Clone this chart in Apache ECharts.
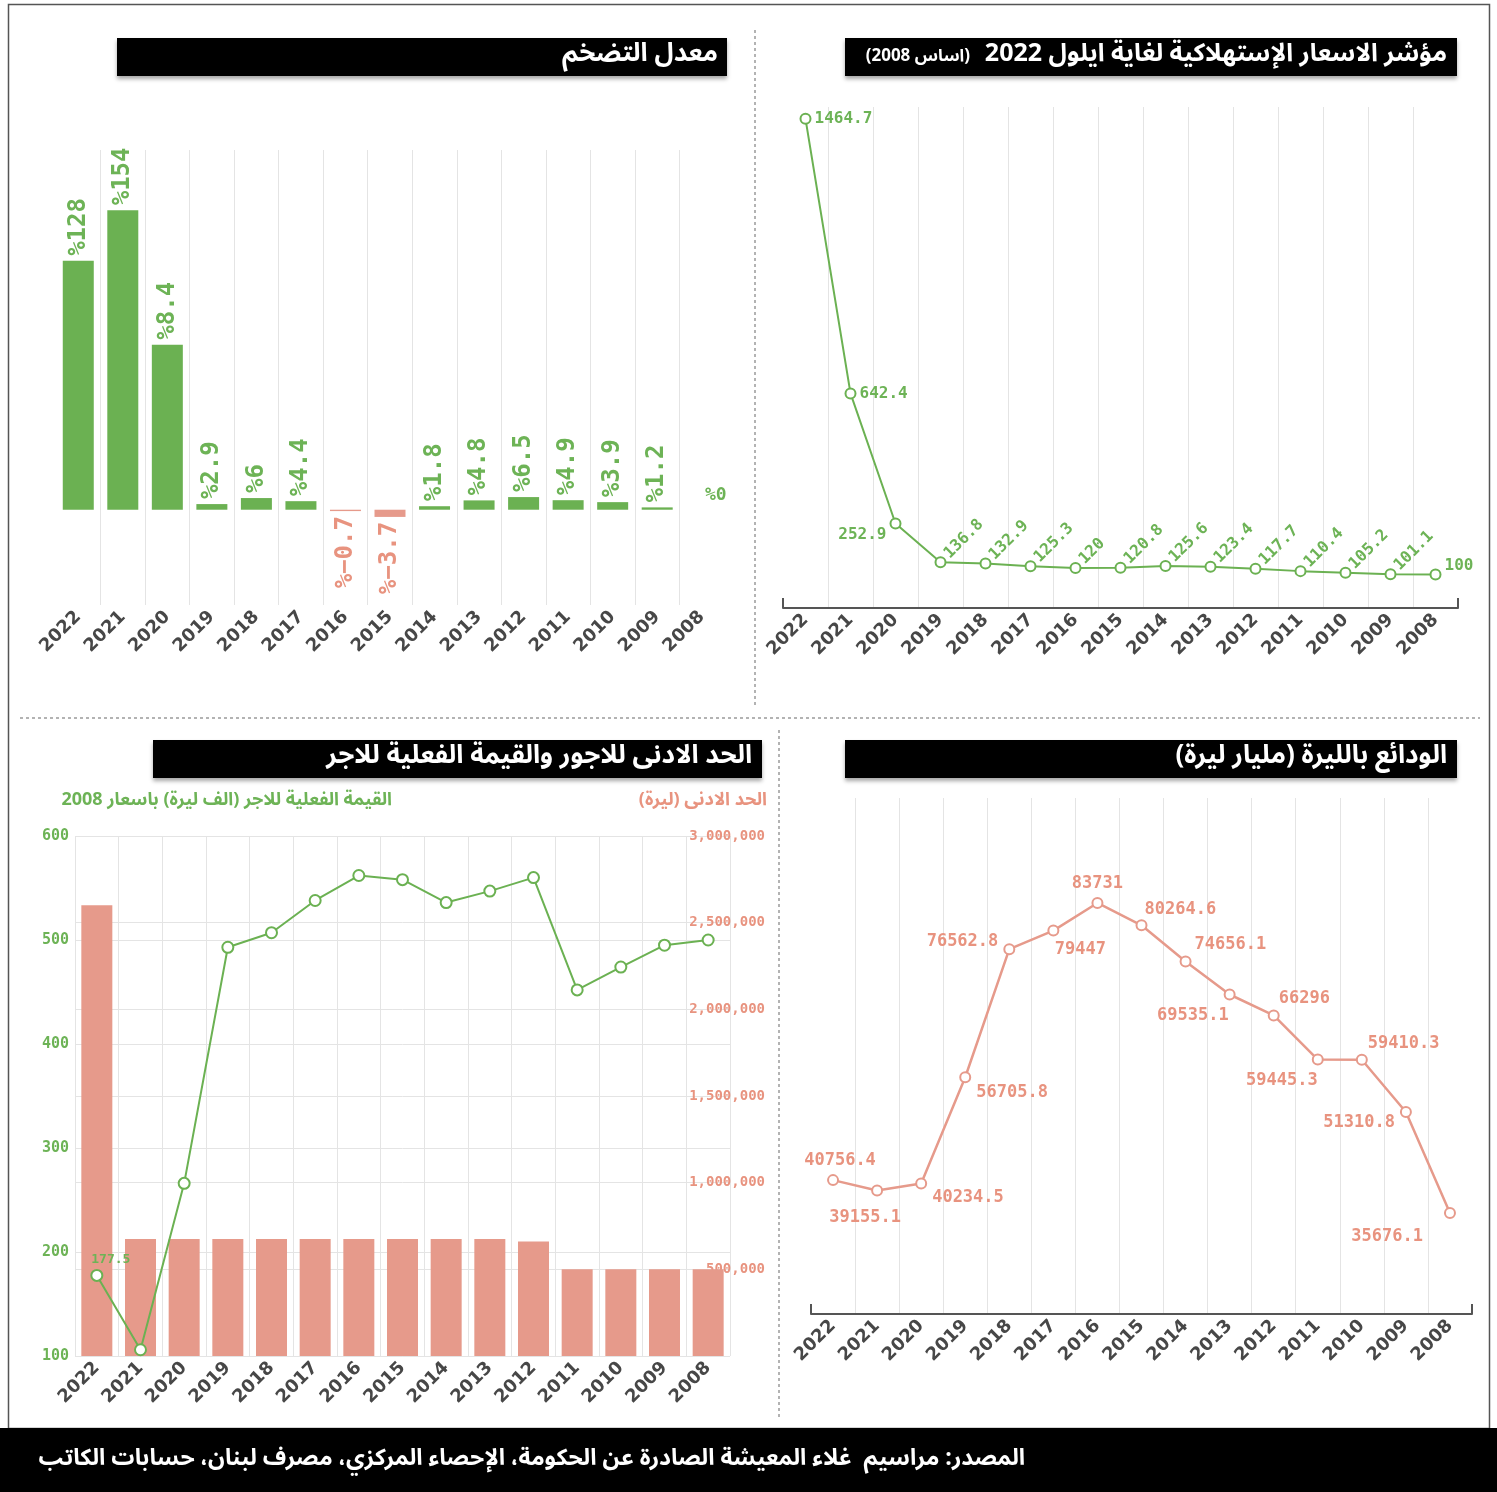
<!DOCTYPE html>
<html><head><meta charset="utf-8">
<script src="https://cdn.jsdelivr.net/npm/echarts/dist/echarts.min.js"></script>
<style>html,body{margin:0;padding:0;background:#fff}#c{width:1497px;height:1492px}</style>
</head><body><div id="c"></div>
<script>
// ---------- data ----------
const years = ['2022','2021','2020','2019','2018','2017','2016','2015','2014','2013','2012','2011','2010','2009','2008'];
const inflation = [128, 154, 84.9, 2.9, 6, 4.4, -0.7, -3.7, 1.8, 4.8, 6.5, 4.9, 3.9, 1.2, 0];
const inflationLabels = ['%128','%154','%8.4','%2.9','%6','%4.4','%\u22120.7','%\u22123.7','%1.8','%4.8','%6.5','%4.9','%3.9','%1.2','%0'];
const cpi = [1464.7, 642.4, 252.9, 136.8, 132.9, 125.3, 120, 120.8, 125.6, 123.4, 117.7, 110.4, 105.2, 101.1, 100];
const minWage = [2600000, 675000, 675000, 675000, 675000, 675000, 675000, 675000, 675000, 675000, 660000, 500000, 500000, 500000, 500000];
const realWage = [177.5, 106, 266, 493, 507, 538, 562, 558, 536, 547, 560, 452, 474, 495, 500];
const realWageLabels = ['177.5','','','','','','','','','','','','','',''];
const deposits = [40756.4, 39155.1, 40234.5, 56705.8, 76562.8, 79447, 83731, 80264.6, 74656.1, 69535.1, 66296, 59445.3, 59410.3, 51310.8, 35676.1];
const wageLeftTicks = {min: 100, max: 600, interval: 100};
const wageRightTicks = {min: 0, max: 3000000, interval: 500000};

const titles = {
  inflation: 'معدل التضخم',
  cpi: 'مؤشر الاسعار الإستهلاكية لغاية ايلول 2022',
  cpiSub: '(اساس 2008)',
  wages: 'الحد الادنى للاجور والقيمة الفعلية للاجر',
  wageLeftName: 'القيمة الفعلية للاجر (الف ليرة) باسعار 2008',
  wageRightName: 'الحد الادنى (ليرة)',
  deposits: 'الودائع بالليرة (مليار ليرة)',
  source: 'المصدر: مراسيم  غلاء المعيشة الصادرة عن الحكومة، الإحصاء المركزي، مصرف لبنان، حسابات الكاتب'
};

// ---------- styles ----------
const GREEN = '#6bb152', GREEN_TXT = '#6db356', SALMON = '#e69a8b', SALMON_TXT = '#e8937f';
const YEAR = '#474747', GRIDC = '#e4e4e4';
const MONO = '"DejaVu Sans Mono", monospace';
const SANS = '"DejaVu Sans", sans-serif';
const AR = '"Noto Sans Arabic", "DejaVu Sans", sans-serif';
const rtl = s => '\u202B' + s + '\u202C';

// label placement (styles only)
const cpiLabelPos = [
  {position: 'right', distance: 3},
  {position: 'right', distance: 3},
  {position: 'left', distance: 3, offset: [0, 11]},
  ...Array(11).fill({position: 'inside', rotate: 45, align: 'left', verticalAlign: 'middle', offset: [9, 0]}),
  {position: 'right', distance: 3, offset: [0, -9]}
];
const depLabelPos = [
  {position: 'top', offset: [7, 0]},
  {position: 'bottom', offset: [-12, 8]},
  {position: 'right', offset: [0, 14]},
  {position: 'right', offset: [0, 15]},
  {position: 'left', offset: [0, -8]},
  {position: 'bottom', offset: [27, 0]},
  {position: 'top', offset: [0, 0]},
  {position: 'right', offset: [-8, -16]},
  {position: 'right', offset: [-2, -17]},
  {position: 'left', offset: [10, 21]},
  {position: 'right', offset: [-6, -17]},
  {position: 'left', offset: [11, 21]},
  {position: 'right', offset: [-5, -16]},
  {position: 'left', offset: [0, 11]},
  {position: 'left', offset: [-16, 24]}
];

const yearLabel = {rotate: 45, color: YEAR, fontFamily: SANS, fontWeight: 'bold', fontSize: 18, margin: 9, interval: 0};
function catAxis(gridIndex, edgeLines) {
  return {type: 'category', gridIndex, data: years, boundaryGap: true,
    axisLine: {show: false, onZero: false}, axisTick: {show: false},
    axisLabel: yearLabel,
    splitLine: {show: true, interval: 0, showMinLine: edgeLines, showMaxLine: edgeLines, lineStyle: {color: GRIDC, width: 1}}};
}
function bracketAxis(gridIndex) {
  return {type: 'value', gridIndex, position: 'bottom', min: 0, max: 1, interval: 1,
    axisLine: {show: true, onZero: false, lineStyle: {color: '#555', width: 2}},
    axisTick: {show: true, inside: true, length: 10, lineStyle: {color: '#555', width: 2}},
    axisLabel: {show: false}, splitLine: {show: false}};
}
function txt(x, y, text, color, size) {
  return {type: 'text', x, y, silent: true,
    style: {text: rtl(text), fill: color, font: 'bold ' + size + 'px ' + AR, align: 'right', verticalAlign: 'middle', textAlign: 'right', textVerticalAlign: 'middle'}};
}
function titleBar(x, y, w, h, text, tx, size) {
  return [
    {type: 'rect', shape: {x, y, width: w, height: h}, style: {fill: '#000', shadowBlur: 4, shadowOffsetY: 3, shadowColor: 'rgba(0,0,0,0.35)'}, silent: true},
    txt(tx, y + h / 2, text, '#fff', size)
  ];
}
const dash = {stroke: '#9a9a9a', lineWidth: 1.5, lineDash: [3, 3]};

const option = {
  backgroundColor: '#fff',
  animation: false,
  grid: [
    {left: 56, top: 150, width: 668, height: 455, outerBoundsMode: 'none', containLabel: false},
    {left: 783, top: 107, width: 675, height: 501, outerBoundsMode: 'none', containLabel: false},
    {left: 75, top: 836, width: 655, height: 520, outerBoundsMode: 'none', containLabel: false},
    {left: 811, top: 798, width: 661, height: 516, outerBoundsMode: 'none', containLabel: false}
  ],
  xAxis: [
    catAxis(0, false),
    catAxis(1, false),
    bracketAxis(1),
    catAxis(2, true),
    catAxis(3, false),
    bracketAxis(3)
  ],
  yAxis: [
    {type: 'value', gridIndex: 0, min: -49, max: 185, show: false},
    {type: 'value', gridIndex: 1, min: 0, max: 1500, show: false},
    {type: 'value', gridIndex: 2, position: 'left', min: wageLeftTicks.min, max: wageLeftTicks.max, interval: wageLeftTicks.interval,
      axisLine: {show: false, onZero: false}, axisTick: {show: false},
      axisLabel: {color: GREEN_TXT, fontFamily: MONO, fontWeight: 'bold', fontSize: 15, margin: 6},
      splitLine: {show: true, lineStyle: {color: GRIDC}}},
    {type: 'value', gridIndex: 2, position: 'right', min: wageRightTicks.min, max: wageRightTicks.max, interval: wageRightTicks.interval,
      axisLine: {show: false, onZero: false}, axisTick: {show: false},
      axisLabel: {color: SALMON_TXT, fontFamily: MONO, fontWeight: 'bold', fontSize: 14, margin: 35, align: 'right', showMinLabel: false,
        formatter: v => v.toLocaleString('en-US')},
      splitLine: {show: true, lineStyle: {color: GRIDC}}},
    {type: 'value', gridIndex: 3, min: 20000, max: 100000, show: false}
  ],
  series: [
    {type: 'bar', xAxisIndex: 0, yAxisIndex: 0, barWidth: 31,
      data: inflation.map(v => ({
        value: v,
        itemStyle: {color: v < 0 ? SALMON : GREEN},
        label: v < 0 ? {position: 'bottom', align: 'right', color: SALMON_TXT}
             : (v === 0 ? {rotate: 0, position: 'top', align: 'center', verticalAlign: 'bottom', offset: [14, 0], fontSize: 18} : {})
      })),
      label: {show: true, rotate: 90, position: 'top', align: 'left', verticalAlign: 'middle', distance: 5,
        color: GREEN_TXT, fontFamily: MONO, fontWeight: 'bold', fontSize: 24,
        formatter: p => inflationLabels[p.dataIndex]}
    },
    {type: 'line', xAxisIndex: 1, yAxisIndex: 1, symbol: 'emptyCircle', symbolSize: 10,
      lineStyle: {color: GREEN, width: 2}, itemStyle: {color: GREEN, borderWidth: 2},
      data: cpi.map((v, i) => ({value: v, label: cpiLabelPos[i]})),
      label: {show: true, color: GREEN_TXT, fontFamily: MONO, fontWeight: 'bold', fontSize: 16}
    },
    {type: 'bar', xAxisIndex: 3, yAxisIndex: 3, barWidth: 31, itemStyle: {color: SALMON}, data: minWage, z: 2},
    {type: 'line', xAxisIndex: 3, yAxisIndex: 2, symbol: 'emptyCircle', symbolSize: 11, z: 5,
      lineStyle: {color: GREEN, width: 2}, itemStyle: {color: GREEN, borderWidth: 2},
      data: realWage,
      label: {show: true, position: 'top', offset: [14, 2], color: GREEN_TXT, fontFamily: MONO, fontWeight: 'bold', fontSize: 13,
        formatter: p => realWageLabels[p.dataIndex]}
    },
    {type: 'line', xAxisIndex: 4, yAxisIndex: 4, symbol: 'emptyCircle', symbolSize: 10,
      lineStyle: {color: SALMON, width: 2.5}, itemStyle: {color: SALMON, borderWidth: 2},
      data: deposits.map((v, i) => ({value: v, label: depLabelPos[i]})),
      label: {show: true, color: SALMON_TXT, fontFamily: MONO, fontWeight: 'bold', fontSize: 17}
    }
  ],
  graphic: [
    {type: 'rect', shape: {x: 8.5, y: 4.5, width: 1481, height: 1424}, style: {fill: 'none', stroke: '#555', lineWidth: 1.5}, silent: true},
    {type: 'line', shape: {x1: 755, y1: 30, x2: 755, y2: 705}, style: dash, silent: true},
    {type: 'line', shape: {x1: 20, y1: 718, x2: 1480, y2: 718}, style: dash, silent: true},
    {type: 'line', shape: {x1: 779, y1: 730, x2: 779, y2: 1420}, style: dash, silent: true},
    ...titleBar(117, 38, 610, 38, titles.inflation, 718, 26),
    ...titleBar(845, 38, 612, 38, titles.cpi, 1447, 25),
    txt(970, 58, titles.cpiSub, '#fff', 17),
    ...titleBar(153, 740, 609, 38, titles.wages, 752, 26),
    ...titleBar(845, 740, 612, 38, titles.deposits, 1447, 26),
    txt(392, 802, titles.wageLeftName, GREEN_TXT, 18),
    txt(767, 802, titles.wageRightName, SALMON_TXT, 18),
    {type: 'rect', shape: {x: 0, y: 1428, width: 1497, height: 64}, style: {fill: '#000'}, silent: true},
    txt(1025, 1462, titles.source, '#fff', 23)
  ]
};
const chart = echarts.init(document.getElementById('c'), null, {renderer: 'canvas'});
chart.setOption(option);
</script>
</body></html>
